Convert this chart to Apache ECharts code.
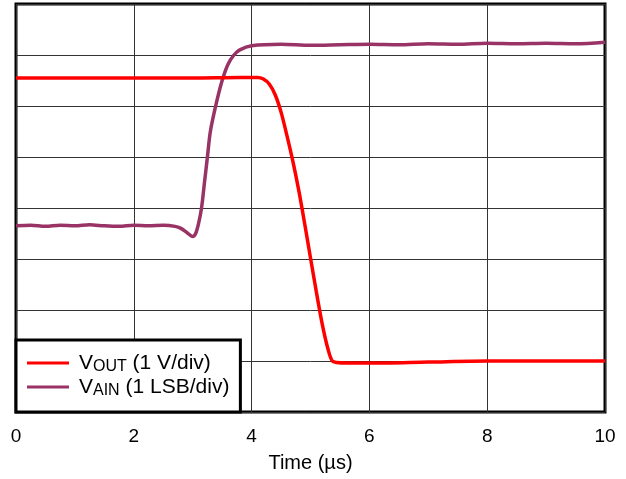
<!DOCTYPE html>
<html><head><meta charset="utf-8">
<script src="https://cdn.jsdelivr.net/npm/echarts@6/dist/echarts.min.js"></script>
<style>html,body{margin:0;padding:0;background:#fff}#c{width:626px;height:479px}</style>
</head><body><div id="c"></div>
<script>
// Time in microseconds; values in divisions from the bottom of the plot
var xTicks = [0, 2, 4, 6, 8, 10];
var voutT = [0, 1, 2, 3, 3.8, 4.1, 4.2, 4.3, 4.4, 4.5, 4.6, 4.7, 4.8, 4.9, 5.0, 5.1, 5.2, 5.3, 5.37, 5.45, 5.6, 6, 7, 8, 9, 10];
var voutV = [6.55, 6.55, 6.55, 6.55, 6.56, 6.56, 6.53, 6.43, 6.22, 5.88, 5.42, 4.92, 4.35, 3.7, 3.02, 2.35, 1.72, 1.22, 1.0, 0.97, 0.96, 0.96, 0.98, 1.0, 1.0, 1.0];
var vainT = [0, 0.25, 0.5, 0.75, 1, 1.25, 1.5, 1.75, 2, 2.25, 2.5, 2.7, 2.8, 2.9, 3.0, 3.05, 3.1, 3.15, 3.2, 3.25, 3.3, 3.4, 3.5, 3.6, 3.7, 3.8, 4.0, 4.5, 5, 5.5, 6, 6.5, 7, 7.5, 8, 8.5, 9, 9.5, 10];
var vainV = [3.65, 3.66, 3.64, 3.66, 3.65, 3.67, 3.65, 3.64, 3.66, 3.65, 3.66, 3.64, 3.6, 3.52, 3.44, 3.5, 3.7, 4.0, 4.5, 5.0, 5.5, 6.05, 6.5, 6.82, 7.0, 7.1, 7.18, 7.21, 7.19, 7.2, 7.21, 7.2, 7.22, 7.21, 7.23, 7.22, 7.23, 7.22, 7.25];
var names = ['VOUT', 'VAIN'];

function pairs(t, v) { return t.map(function (x, i) { return [x, v[i]]; }); }

var chart = echarts.init(document.getElementById('c'));
chart.setOption({
  animation: false,
  backgroundColor: '#fff',
  grid: { left: 16, top: 4, width: 589, height: 408, show: true, borderColor: '#000', borderWidth: 3, backgroundColor: 'transparent' },
  xAxis: {
    type: 'value', min: 0, max: 10, interval: 2,
    name: 'Time (\u00b5s)', nameLocation: 'middle', nameGap: 41,
    nameTextStyle: { fontFamily: 'Liberation Sans', fontSize: 20, color: '#000' },
    axisLine: { show: false }, axisTick: { show: false },
    axisLabel: { fontFamily: 'Liberation Sans', fontSize: 19, color: '#000', margin: 15,
      formatter: function (v) { return xTicks.indexOf(v) >= 0 ? String(v) : ''; } },
    splitLine: { show: true, lineStyle: { color: '#333', width: 1 } }
  },
  yAxis: {
    type: 'value', min: 0, max: 8, interval: 1,
    axisLine: { show: false }, axisTick: { show: false }, axisLabel: { show: false },
    splitLine: { show: true, lineStyle: { color: '#333', width: 1 } }
  },
  legend: {
    orient: 'vertical', left: 16, top: 340,
    backgroundColor: '#fff', borderColor: '#000', borderWidth: 3,
    padding: [11, 11, 13, 11], itemGap: 0,
    icon: 'rect', itemWidth: 42, itemHeight: 3,
    data: names,
    formatter: function (n) {
      if (n === 'VOUT') return '{f|V}{s|OUT}{v| (1 V/div)}';
      return '{f|V}{s|AIN}{v| (1 LSB/div)}';
    },
    textStyle: {
      fontFamily: 'Liberation Sans', color: '#000',
      rich: {
        f: { fontSize: 21, fontFamily: 'Liberation Sans', color: '#000', lineHeight: 24, padding: [0, 0, 0, 5] },
        v: { fontSize: 21, fontFamily: 'Liberation Sans', color: '#000', lineHeight: 24 },
        s: { fontSize: 16, fontFamily: 'Liberation Sans', color: '#000', lineHeight: 24, padding: [8, 0, 0, 0] }
      }
    }
  },
  series: [
    { name: 'VOUT', type: 'line', data: pairs(voutT, voutV), showSymbol: false, smooth: 0.3,
      lineStyle: { color: '#ff0000', width: 3.5 }, itemStyle: { color: '#ff0000' }, z: 3 },
    { name: 'VAIN', type: 'line', data: pairs(vainT, vainV), showSymbol: false, smooth: 0.3,
      lineStyle: { color: '#993366', width: 3.5 }, itemStyle: { color: '#993366' }, z: 2 }
  ]
});
</script></body></html>
